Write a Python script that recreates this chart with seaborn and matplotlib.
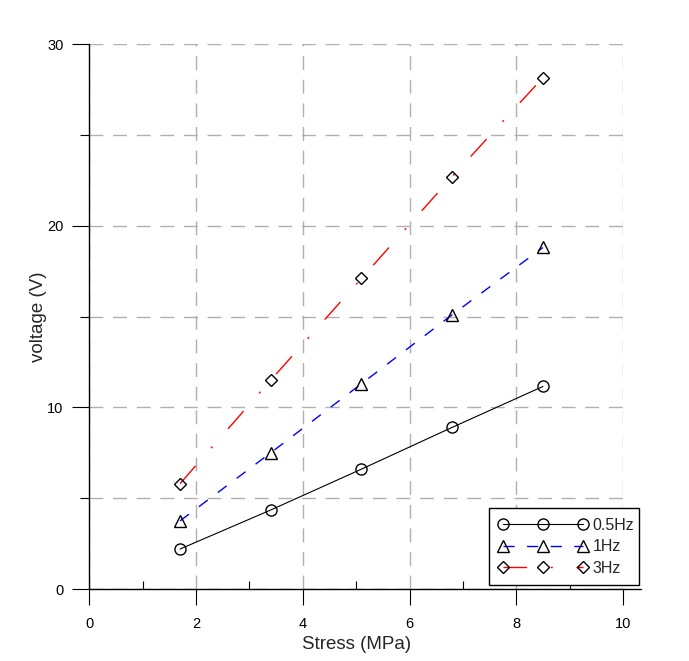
import matplotlib
matplotlib.use('Agg')
import matplotlib.pyplot as plt
import seaborn as sns
import pandas as pd
from matplotlib.ticker import MultipleLocator

# data
stress = [1.7, 3.4, 5.1, 6.8, 8.5]
v_05hz = [2.2, 4.35, 6.6, 8.9, 11.15]
v_1hz = [3.75, 7.5, 11.3, 15.1, 18.8]
v_3hz = [5.8, 11.5, 17.1, 22.7, 28.15]
labels = ['0.5Hz', '1Hz', '3Hz']

sns.set_style('ticks')
plt.rcParams['font.family'] = ['Liberation Sans', 'DejaVu Sans']

fig = plt.figure(figsize=(6.89, 6.61), dpi=100)
ax = fig.add_axes([0.1296, 0.1089, 0.7746, 0.8245])

series = [
    (v_05hz, 'black', 'o', '-', 0.8, 8),
    (v_1hz, '#0000ff', '^', (0, (8, 9)), 1.0, 8),
    (v_3hz, '#ff0000', 'D', (0, (17, 17, 1.5, 17)), 1.0, 6),
]
for (vals, col, mk, ls, lw, ms), lab in zip(series, labels):
    df = pd.DataFrame({'stress': stress, 'voltage': vals})
    sns.lineplot(data=df, x='stress', y='voltage', ax=ax, color=col,
                 linestyle=ls, linewidth=lw, marker=mk, markersize=ms,
                 markerfacecolor='none', markeredgecolor='black',
                 markeredgewidth=1.0, label=lab, zorder=3)

ax.set_xlim(0, 10)
ax.set_ylim(0, 30)
ax.xaxis.set_major_locator(MultipleLocator(2))
ax.xaxis.set_minor_locator(MultipleLocator(1))
ax.yaxis.set_major_locator(MultipleLocator(10))
ax.yaxis.set_minor_locator(MultipleLocator(5))

grid_kw = dict(color='#b0b0b0', linewidth=1.0, linestyle=(0, (10, 7)))
ax.grid(True, axis='x', which='major', **grid_kw)
ax.grid(True, axis='y', which='both', **grid_kw)
ax.set_axisbelow(True)

sns.despine(ax=ax)
for s in ['left', 'bottom']:
    ax.spines[s].set_linewidth(1.0)
    ax.spines[s].set_color('black')
ax.plot([1.0, 1.033], [0, 0], transform=ax.transAxes, color='black',
        linewidth=1.0, clip_on=False)

ax.tick_params(axis='x', which='major', direction='out', length=11.5, width=0.8,
               pad=9, labelsize=10.5, colors='black')
ax.tick_params(axis='x', which='minor', direction='in', length=6, width=0.8,
               colors='black')
ax.tick_params(axis='y', which='major', direction='out', length=12.5, width=0.8,
               pad=6, labelsize=10.5, colors='black')
ax.tick_params(axis='y', which='minor', direction='out', length=6.5, width=0.8,
               colors='black')

ax.set_xlabel('Stress (MPa)', fontsize=13.5, labelpad=3)
ax.set_ylabel('voltage (V)', fontsize=13.5, labelpad=0)

leg = ax.legend(loc='lower left', bbox_to_anchor=(0.749, 0.007, 0.281, 0.147),
                mode='expand', borderaxespad=0, numpoints=3, handlelength=5.6,
                handletextpad=0.3, labelspacing=0.4, fontsize=11.5,
                frameon=True, fancybox=False, borderpad=0.6)
leg.get_frame().set_edgecolor('black')
leg.get_frame().set_linewidth(1.0)
leg.get_frame().set_alpha(1)

fig.savefig('out.png', dpi=100)
